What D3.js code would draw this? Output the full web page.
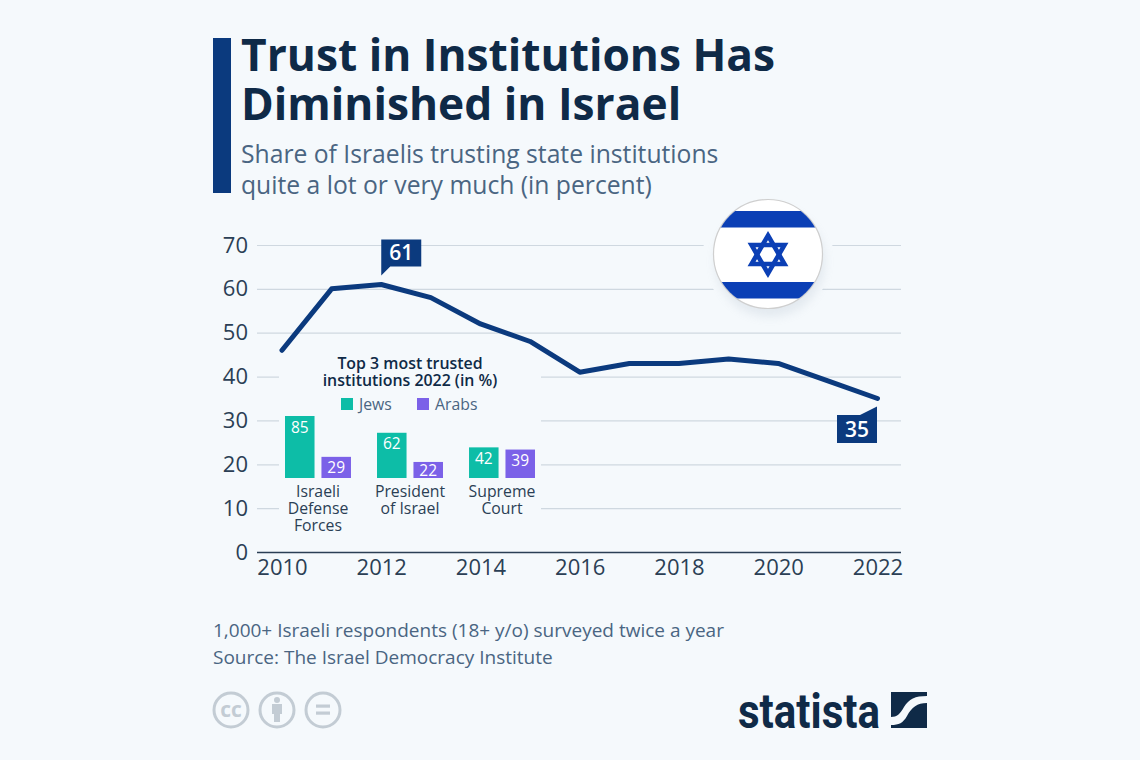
<!DOCTYPE html>
<html><head><meta charset="utf-8">
<script src="https://cdn.jsdelivr.net/npm/d3@7/dist/d3.min.js"></script>
<style>
html,body{margin:0;padding:0;background:#f5f9fc;overflow:hidden}
svg{display:block}
text{font-family:"Open Sans",sans-serif}
</style></head><body>
<svg id="c" width="1140" height="760" role="img" aria-label="Trust in Institutions Has Diminished in Israel"></svg>
<script>
const years=[2010,2011,2012,2013,2014,2015,2016,2017,2018,2019,2020,2021,2022];
const trust=[46,60,61,58,52,48,41,43,43,44,43,39,35];
const yTicks=[0,10,20,30,40,50,60,70];
const xTicks=[2010,2012,2014,2016,2018,2020,2022];
const calloutYears=[2012,2022];
const institutions=["Israeli Defense Forces","President of Israel","Supreme Court"];
const institutionLines=[["Israeli","Defense","Forces"],["President","of Israel"],["Supreme","Court"]];
const groups=["Jews","Arabs"];
const jews=[85,62,42];
const arabs=[29,22,39];
const titleLines=["Trust in Institutions Has","Diminished in Israel"];
const subtitleLines=["Share of Israelis trusting state institutions","quite a lot or very much (in percent)"];
const insetTitle=["Top 3 most trusted","institutions 2022 (in %)"];
const footer=["1,000+ Israeli respondents (18+ y/o) surveyed twice a year","Source: The Israel Democracy Institute"];

const NAVY="#0b3a7e",INK="#0f2a47",SLATE="#4a6582",AXIS="#2b3f55",GRID="#cfd8e0",TEAL="#0dbda7",PURPLE="#7b61e8",BG="#f5f9fc";
const svg=d3.select("#c");
svg.append("rect").attr("width",1140).attr("height",760).attr("fill",BG);

const defs=svg.append("defs");
const blur=defs.append("filter").attr("id","soft").attr("x","-30%").attr("y","-30%").attr("width","160%").attr("height","160%");
blur.append("feGaussianBlur").attr("stdDeviation",5);
defs.append("clipPath").attr("id","flagClip").append("circle").attr("cx",768).attr("cy",254).attr("r",54);

/* header */
svg.append("rect").attr("x",213).attr("y",38).attr("width",18).attr("height",155).attr("fill",NAVY);
svg.append("g").selectAll("text").data(titleLines).join("text")
  .attr("x",241).attr("y",(d,i)=>70.5+i*49).attr("font-size",44.3).attr("font-weight",700).attr("fill",INK).text(d=>d);
svg.append("g").selectAll("text").data(subtitleLines).join("text")
  .attr("x",241).attr("y",(d,i)=>163+i*31).attr("font-size",24.7).attr("fill",SLATE).text(d=>d);

/* scales */
const x=d3.scaleLinear().domain([2010,2022]).range([282,877.5]);
const y=d3.scaleLinear().domain([0,70]).range([552,245]);

/* grid + axes */
const gy=svg.append("g").attr("transform","translate(257,0)")
  .call(d3.axisLeft(y).tickValues(yTicks).tickSize(-644).tickPadding(9).tickFormat(d3.format("d")));
gy.select(".domain").remove();
gy.selectAll(".tick line").attr("stroke",d=>d===0?AXIS:GRID).attr("stroke-width",d=>d===0?1.6:1.2);
gy.selectAll(".tick text").attr("font-size",22).attr("fill",AXIS).attr("font-family","Open Sans");

const gx=svg.append("g").attr("transform","translate(0,552)")
  .call(d3.axisBottom(x).tickValues(xTicks).tickSize(0).tickPadding(7).tickFormat(d3.format("d")));
gx.select(".domain").remove();
gx.selectAll(".tick text").attr("font-size",22).attr("fill",AXIS).attr("font-family","Open Sans");

/* masks over the grid: inset area and the halo round the flag */
svg.append("rect").attr("x",279).attr("y",352).attr("width",262).attr("height",190).attr("fill",BG);
svg.append("circle").attr("cx",768).attr("cy",254).attr("r",65).attr("fill",BG);

/* line */
const line=d3.line().x((d,i)=>x(years[i])).y(d=>y(d));
svg.append("path").datum(trust).attr("d",line).attr("fill","none").attr("stroke",NAVY)
  .attr("stroke-width",5).attr("stroke-linecap","round").attr("stroke-linejoin","round");

/* callouts */
function callout(yr,kind){
  const v=trust[years.indexOf(yr)],px=x(yr),py=y(v);
  const g=svg.append("g");
  let p,tx,ty;
  if(kind==="above"){
    const l=px,b=py-18,t=b-27;
    p=[[l,t],[l+40,t],[l+40,b],[l+9,b],[l,b+9]];tx=l+20;ty=t+20.5;
  }else{
    const r=px-0.5,t=py+16.5,b=t+28;
    p=[[r-40,t],[r-17,t],[r,py+8],[r,b],[r-40,b]];tx=r-20;ty=t+22;
  }
  g.append("path").attr("d",d3.line()(p)+"Z").attr("fill",NAVY);
  g.append("text").attr("x",tx).attr("y",ty).attr("text-anchor","middle").attr("font-size",21).attr("font-weight",600).attr("fill","#fff").text(v);
}
callout(calloutYears[0],"above");
callout(calloutYears[1],"below");

/* inset chart */
const xi=d3.scaleBand().domain(institutions).range([285,535]).paddingInner(0.283).paddingOuter(0);
const xg=d3.scaleBand().domain(groups).range([0,xi.bandwidth()]).paddingInner(0.19);
const hi=d3.scaleLinear().domain([0,85]).range([478,416]);
const colors={Jews:TEAL,Arabs:PURPLE};
const series={Jews:jews,Arabs:arabs};
svg.append("g").selectAll("text").data(insetTitle).join("text")
  .attr("x",410).attr("y",(d,i)=>369+i*17).attr("text-anchor","middle").attr("font-size",15.9).attr("font-weight",600).attr("fill",INK).text(d=>d);
const legendX={Jews:341,Arabs:417};
groups.forEach(g=>{
  svg.append("rect").attr("x",legendX[g]).attr("y",398).attr("width",12).attr("height",12).attr("fill",colors[g]);
  svg.append("text").attr("x",legendX[g]+18).attr("y",409.5).attr("font-size",15.8).attr("fill",SLATE).text(g);
  const s=svg.append("g");
  s.selectAll("rect").data(series[g]).join("rect")
    .attr("x",(d,i)=>xi(institutions[i])+xg(g)).attr("y",d=>hi(d)).attr("width",xg.bandwidth()).attr("height",d=>478-hi(d)).attr("fill",colors[g]);
  s.selectAll("text").data(series[g]).join("text")
    .attr("x",(d,i)=>xi(institutions[i])+xg(g)+xg.bandwidth()/2).attr("y",d=>Math.min(hi(d)+16.5,475.5))
    .attr("text-anchor","middle").attr("font-size",15.5).attr("fill","#fff").text(d=>d);
});
institutions.forEach((n,i)=>{
  svg.append("g").selectAll("text").data(institutionLines[i]).join("text")
    .attr("x",xi(n)+xi.bandwidth()/2).attr("y",(d,j)=>497+j*17).attr("text-anchor","middle").attr("font-size",15.8).attr("fill",AXIS).text(d=>d);
});

/* flag */
svg.append("ellipse").attr("cx",770).attr("cy",262).attr("rx",55).attr("ry",55).attr("fill","#8fa0b4").attr("opacity",.17).attr("filter","url(#soft)");
const flag=svg.append("g");
flag.append("circle").attr("cx",768).attr("cy",254).attr("r",54.5).attr("fill","#fff").attr("stroke","#cfcfcf").attr("stroke-width",1.2);
const fc=flag.append("g").attr("clip-path","url(#flagClip)");
fc.append("rect").attr("x",710).attr("y",211).attr("width",116).attr("height",16.5).attr("fill","#0b3fb5");
fc.append("rect").attr("x",710).attr("y",282).attr("width",116).attr("height",16.5).attr("fill","#0b3fb5");
const tri=(r,a)=>d3.range(3).map(k=>{const t=a+k*2*Math.PI/3;return [768+r*Math.sin(t),254.5-r*Math.cos(t)];});
[0,Math.PI].forEach(a=>flag.append("path").attr("d",d3.line()(tri(19,a))+"Z").attr("fill","none").attr("stroke","#0b3fb5").attr("stroke-width",4.6).attr("stroke-linejoin","miter"));

/* footer */
svg.append("g").selectAll("text").data(footer).join("text")
  .attr("x",213).attr("y",(d,i)=>637+i*27).attr("font-size",19).attr("fill",SLATE).text(d=>d);

/* licence icons */
const ic="#c3ccd4";
[231,277,323].forEach(cx=>svg.append("circle").attr("cx",cx).attr("cy",710).attr("r",17).attr("fill","none").attr("stroke",ic).attr("stroke-width",3));
svg.append("text").attr("x",231).attr("y",717).attr("text-anchor","middle").attr("font-size",21).attr("font-weight",700).attr("fill",ic).text("cc");
svg.append("circle").attr("cx",277).attr("cy",700).attr("r",3).attr("fill",ic);
svg.append("path").attr("d","M272 704H282V714H280V722H274V714H272Z").attr("fill",ic);
svg.append("rect").attr("x",316).attr("y",704.5).attr("width",14).attr("height",3.2).attr("fill",ic);
svg.append("rect").attr("x",316).attr("y",711.5).attr("width",14).attr("height",3.2).attr("fill",ic);

/* statista logo */
svg.append("text").attr("x",738).attr("y",727.5).attr("font-size",48).attr("font-weight",700).attr("fill",INK)
  .attr("textLength",142).attr("lengthAdjust","spacingAndGlyphs").style("font-family","Roboto, 'Open Sans', sans-serif").text("statista");
svg.append("path").attr("d","M891 692H927V696C915 696 909 699 904 707C900 714 897 717 891 717Z M927 703V728H891V725C899 725 903 723 907 716C912 707 917 703 927 703Z").attr("fill",INK);
</script>
</body></html>
